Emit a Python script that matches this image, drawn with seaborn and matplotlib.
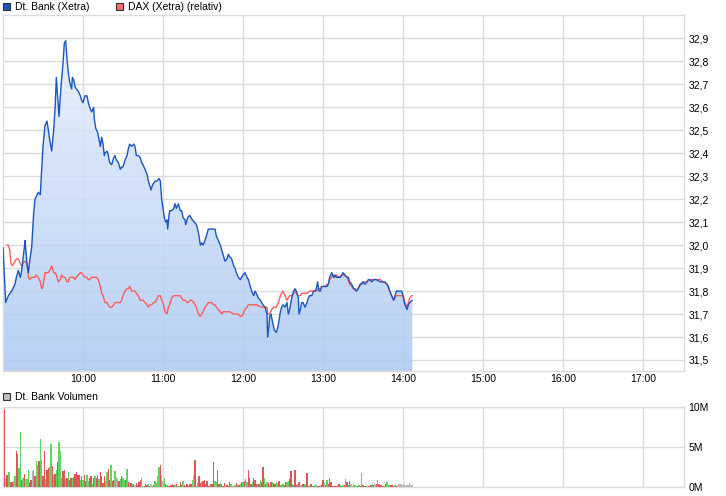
import numpy as np
import matplotlib
matplotlib.use("Agg")
import matplotlib.pyplot as plt
import seaborn as sns
from matplotlib.patches import Rectangle, Polygon
from matplotlib.colors import LinearSegmentedColormap

sns.set_theme(style="white")
plt.rcParams['font.family'] = ['Liberation Sans', 'DejaVu Sans']

# ---------------- data (minutes after 09:00) ----------------
bank_t = [0, 2, 4, 6.5, 9, 10, 11.5, 13, 14, 16, 16.5, 18, 19, 20, 21.5, 23, 24, 26.5, 28, 29,
          30, 31.5, 33, 35, 36.5, 38, 39, 40, 41.5, 42, 43.5, 45, 46, 47, 48, 49, 50, 51.5, 52, 53,
          54, 55, 56.5, 58, 59, 60, 61.5, 63, 64, 65, 66.5, 68, 68.5, 69.5, 71, 72, 73, 74, 75, 76,
          76.5, 78, 79, 80, 81.5, 83, 84, 85, 86.5, 88, 89, 90, 91.5, 93, 94, 95, 96.5, 98, 99, 100,
          101.5, 103, 104, 105, 106.5, 108, 109, 110, 111, 112, 113, 114.5, 115.5, 117, 118, 118.5,
          119, 120, 121, 122, 123, 123.5, 124.5, 125, 126.5, 128, 129, 130, 131.5, 133, 134, 135,
          136.5, 137, 138.5, 140, 141, 142, 143.5, 145, 146, 147, 148, 149, 150, 151.5, 153, 154,
          155, 156.5, 158, 159, 160, 161.5, 163, 164, 165, 166.5, 168, 169, 170, 171.5, 173, 174,
          175, 176.5, 178, 179, 180, 181.5, 183, 184, 185, 186.5, 188, 189, 190, 191.5, 193, 194,
          195, 196.5, 198, 198.5, 199.5, 200, 201, 202, 203.5, 205, 206, 207, 208, 209, 210, 211.5,
          213, 214, 215, 216.5, 218, 219, 220, 221.5, 222, 223, 224, 225, 226.5, 228, 229, 230,
          231.5, 233, 234, 235, 236, 237, 238, 239, 241.5, 243, 244, 245, 246.5, 248, 249, 250,
          253, 255, 256.5, 258, 259, 260, 261.5, 263, 264, 265, 266.5, 268, 269, 270, 271.5, 273,
          274, 275, 276.5, 278, 280, 283, 285, 286.5, 288, 289, 290, 291.5, 293, 294, 295, 299,
          300, 301, 301.5, 303, 304, 305, 307]
bank_p = [31.99, 31.75, 31.78, 31.80, 31.83, 31.86, 31.89, 31.86, 31.89, 31.99, 32.02, 31.92, 31.88,
          31.93, 31.99, 32.14, 32.20, 32.23, 32.22, 32.33, 32.43, 32.52, 32.54, 32.46, 32.41, 32.50,
          32.59, 32.73, 32.60, 32.56, 32.69, 32.79, 32.88, 32.89, 32.81, 32.75, 32.71, 32.68, 32.73,
          32.72, 32.69, 32.68, 32.67, 32.65, 32.63, 32.62, 32.65, 32.65, 32.62, 32.60, 32.58, 32.60,
          32.55, 32.51, 32.49, 32.46, 32.43, 32.47, 32.44, 32.39, 32.40, 32.41, 32.39, 32.36, 32.35,
          32.38, 32.39, 32.37, 32.36, 32.33, 32.34, 32.34, 32.37, 32.39, 32.42, 32.44, 32.43, 32.44,
          32.43, 32.39, 32.39, 32.38, 32.36, 32.35, 32.33, 32.31, 32.28, 32.26, 32.24, 32.26, 32.27,
          32.28, 32.28, 32.29, 32.28, 32.24, 32.20, 32.16, 32.12, 32.10, 32.11, 32.07, 32.13, 32.15,
          32.15, 32.16, 32.18, 32.16, 32.18, 32.15, 32.15, 32.12, 32.11, 32.09, 32.12, 32.13, 32.12,
          32.11, 32.10, 32.09, 32.07, 32.04, 32.00, 32.01, 32.00, 32.02, 32.05, 32.07, 32.07, 32.07,
          32.07, 32.07, 32.04, 32.02, 32.00, 31.98, 31.96, 31.93, 31.94, 31.96, 31.95, 31.94, 31.91,
          31.90, 31.88, 31.86, 31.85, 31.86, 31.87, 31.88, 31.86, 31.85, 31.83, 31.80, 31.78, 31.80,
          31.79, 31.77, 31.76, 31.75, 31.74, 31.73, 31.70, 31.60, 31.65, 31.69, 31.70, 31.67, 31.63,
          31.62, 31.64, 31.67, 31.71, 31.73, 31.74, 31.73, 31.75, 31.70, 31.72, 31.77, 31.80, 31.81,
          31.80, 31.77, 31.70, 31.72, 31.75, 31.75, 31.73, 31.75, 31.77, 31.78, 31.78, 31.80, 31.80,
          31.81, 31.84, 31.80, 31.80, 31.82, 31.82, 31.82, 31.83, 31.86, 31.88, 31.86, 31.87, 31.86,
          31.86, 31.88, 31.87, 31.86, 31.86, 31.84, 31.83, 31.81, 31.81, 31.80, 31.81, 31.83, 31.83,
          31.84, 31.83, 31.84, 31.85, 31.85, 31.84, 31.85, 31.85, 31.84, 31.84, 31.84, 31.83, 31.82,
          31.80, 31.78, 31.76, 31.78, 31.80, 31.80, 31.78, 31.75, 31.74, 31.72, 31.74, 31.75, 31.76]

dax_t = [3, 4, 5, 6, 7, 8, 9, 10, 11.5, 13, 14, 15, 16.5, 18, 19, 20, 21.5, 23, 24, 25, 26.5, 28,
         29, 30, 31.5, 33, 34, 35, 36.5, 38, 39, 40, 41.5, 43, 44, 45, 46.5, 48, 49, 50, 51.5, 53,
         54, 55, 56.5, 58, 59, 60, 61.5, 63, 64, 65, 66.5, 68, 69, 70, 71.5, 73, 74, 75, 76.5, 78,
         79, 80, 81.5, 83, 84, 85, 88, 89, 90, 91.5, 93, 94, 95, 96.5, 98, 99, 100, 101.5, 103,
         105, 106.5, 108, 109, 110, 111.5, 113, 114, 115, 116.5, 118, 119, 120, 121.5, 123, 124,
         125, 126.5, 128, 129, 130, 131.5, 133, 134, 135, 136.5, 138, 139, 140, 141.5, 143, 144,
         145, 146.5, 148, 149, 150, 151.5, 153, 154, 155, 156.5, 158, 159, 160, 161.5, 163, 164,
         165, 168, 170, 173, 175, 176.5, 178, 179, 180, 181.5, 183, 184, 186, 190, 194, 196.5,
         198, 198.5, 200, 201.5, 203, 205, 206.5, 208, 209, 210, 211.5, 213, 214, 215, 216.5, 218,
         219, 220, 221.5, 223, 224, 228, 230, 234, 235, 236.5, 238, 239, 241.5, 243, 244, 245,
         246.5, 248, 249, 250, 251.5, 255, 258, 260, 263, 265, 268, 270, 273, 275, 278, 280, 283,
         285, 288, 290, 293, 295, 298, 300, 301.5, 303, 304, 305, 306.5, 307]
dax_p = [32.00, 32.00, 31.98, 31.92, 31.91, 31.92, 31.93, 31.94, 31.94, 31.92, 31.91, 31.92, 31.93,
         31.92, 31.86, 31.85, 31.86, 31.86, 31.86, 31.87, 31.86, 31.84, 31.81, 31.82, 31.88, 31.88,
         31.88, 31.89, 31.91, 31.88, 31.88, 31.87, 31.84, 31.85, 31.87, 31.86, 31.86, 31.84, 31.84,
         31.86, 31.86, 31.86, 31.85, 31.86, 31.87, 31.88, 31.88, 31.87, 31.86, 31.86, 31.85, 31.85,
         31.86, 31.86, 31.86, 31.86, 31.85, 31.82, 31.79, 31.78, 31.75, 31.75, 31.74, 31.73, 31.73,
         31.74, 31.75, 31.75, 31.75, 31.76, 31.78, 31.80, 31.81, 31.81, 31.82, 31.80, 31.80, 31.80,
         31.79, 31.78, 31.76, 31.76, 31.75, 31.74, 31.73, 31.74, 31.74, 31.75, 31.75, 31.76, 31.78,
         31.78, 31.76, 31.75, 31.71, 31.70, 31.73, 31.74, 31.77, 31.78, 31.78, 31.78, 31.78, 31.78,
         31.77, 31.76, 31.76, 31.75, 31.75, 31.76, 31.76, 31.75, 31.74, 31.73, 31.70, 31.69, 31.70,
         31.71, 31.73, 31.74, 31.75, 31.75, 31.75, 31.74, 31.74, 31.73, 31.72, 31.71, 31.70, 31.71,
         31.71, 31.71, 31.70, 31.70, 31.70, 31.69, 31.69, 31.70, 31.72, 31.73, 31.74, 31.74, 31.74,
         31.73, 31.73, 31.73, 31.70, 31.70, 31.72, 31.73, 31.73, 31.75, 31.78, 31.79, 31.80, 31.78,
         31.76, 31.77, 31.78, 31.78, 31.79, 31.80, 31.79, 31.78, 31.78, 31.79, 31.79, 31.80, 31.80,
         31.80, 31.81, 31.81, 31.82, 31.82, 31.83, 31.83, 31.85, 31.86, 31.87, 31.86, 31.87, 31.86,
         31.87, 31.86, 31.83, 31.81, 31.80, 31.83, 31.84, 31.84, 31.85, 31.85, 31.85, 31.85, 31.84,
         31.83, 31.80, 31.76, 31.78, 31.78, 31.78, 31.75, 31.73, 31.75, 31.77, 31.78, 31.78]

# per-minute volume in millions and direction (r = down, g = up, n = unchanged)
vol_m = [9.75, 1.04, 1.54, 1.83, 1.92, 0.58, 0.67, 0.79, 1.42, 4.54, 4.17, 2.42, 6.92, 0.92, 1.08,
         1.67, 1.0, 1.0, 2.17, 0.58, 0.92, 1.96, 2.17, 1.33, 3.29, 2.79, 3.21, 6.04, 3.33, 1.33,
         4.46, 1.0, 2.17, 2.33, 2.5, 5.42, 2.67, 1.5, 1.58, 2.08, 3.08, 5.67, 4.46, 1.08, 1.96,
         2.17, 1.0, 1.08, 1.83, 0.92, 1.08, 1.08, 1.25, 1.63, 1.83, 1.54, 1.54, 0.92, 1.42, 0.83,
         1.54, 0.79, 1.54, 0.71, 1.13, 1.42, 0.42, 1.13, 1.33, 1.08, 1.5, 1.0, 1.92, 1.33, 0.5,
         1.33, 0.79, 1.83, 2.29, 0.92, 2.71, 0.71, 0.83, 1.96, 1.25, 1.0, 0.75, 1.0, 1.42, 1.08,
         0.92, 0.83, 2.29, 0.67, 0.58, 0.5, 0.33, 0.42, 0.25, 0.5, 0.25, 0.67, 0.83, 1.08, 0.17,
         0.17, 0.42, 0.25, 0.33, 0.17, 0.33, 0.17, 0.25, 0.75, 0.5, 1.33, 2.5, 2.75, 1.33, 0.75,
         1.08, 0.42, 0.25, 0.17, 0.17, 0.25, 0.33, 0.25, 0.25, 0.33, 0.17, 0.17, 0.67, 0.25, 0.75,
         0.25, 0.17, 0.42, 0.17, 0.42, 0.42, 0.92, 1.5, 3.42, 0.17, 0.5, 1.33, 0.5, 0.67, 0.75,
         0.92, 0.42, 0.75, 0.17, 0.17, 0.33, 0.42, 3.08, 0.75, 0.67, 2.08, 0.33, 0.5, 0.42, 0.17,
         0.5, 0.17, 0.25, 0.17, 0.67, 0.33, 0.17, 0.17, 0.25, 0.5, 0.25, 0.25, 0.33, 0.58, 0.67,
         0.75, 1.0, 0.67, 2.08, 1.08, 0.42, 0.67, 1.08, 0.92, 0.42, 0.42, 0.42, 0.92, 0.67, 2.5,
         1.17, 0.42, 0.67, 0.5, 0.25, 0.67, 0.67, 0.5, 0.42, 0.58, 0.5, 0.75, 0.25, 0.25, 0.42,
         0.25, 0.67, 0.67, 0.75, 1.0, 2.0, 0.33, 0.25, 2.17, 0.25, 0.42, 0.67, 0.25, 0.25, 0.42,
         0.33, 0.25, 1.75, 0.17, 0.17, 0.33, 0.17, 0.17, 0.25, 0.42, 0.17, 0.17, 0.25, 0.25, 0.83,
         0.5, 0.25, 0.83, 0.33, 1.08, 0.58, 0.17, 0.17, 0.17, 0.17, 0.25, 0.42, 0.25, 0.17, 0.25,
         0.25, 1.0, 0.58, 0.25, 0.75, 0.33, 0.17, 0.42, 0.25, 0.17, 0.17, 0.25, 0.17, 1.75, 0.25,
         0.17, 0.17, 0.17, 0.17, 0.17, 0.25, 0.33, 0.25, 0.33, 0.42, 0.83, 0.42, 0.25, 0.25, 0.17,
         0.17, 0.42, 0.67, 0.25, 0.25, 0.25, 0.25, 0.17, 0.25, 0.17, 0.25, 0.42, 0.33, 0.42, 0.25,
         0.42, 0.17, 0.2, 0.3, 0.5, 0.3, 0.2]
vol_dir = ("rnrggrrggrrggrgrnggrrngrggrggrrgrrggrgrgrgggrrgrgrrgrrrrrgrgrrggrrgrgrrgrrrrggrrgrrgngrg"
           "rggrgrnrgrnrrrrggrrrgrngrggggrgngrgrrrrrgrggrrgrrrrrrgnrggrrgrrrrrgrrrggrrgrrrgrrrgngg"
           "rgrgrgrggrrrgrrrgrgrrgrgrgrgrrggrgrgrrggrrgrrrgrngrgrrgrrgrgnrrnrrnrgrrrrgrrnrgrgrgrgr"
           "ngggnrgrgrgrgrgrgrnrgrrrrgrgggrrggr")

hour_ticks = [60, 120, 180, 240, 300, 360, 420, 480]
hour_labels = ["10:00", "11:00", "12:00", "13:00", "14:00", "15:00", "16:00", "17:00"]
price_ticks = [31.5, 31.6, 31.7, 31.8, 31.9, 32.0, 32.1, 32.2, 32.3, 32.4, 32.5, 32.6, 32.7, 32.8, 32.9]
vol_ticks = [0, 5, 10]
vol_tick_labels = ["0M", "5M", "10M"]

# ---------------- styling ----------------
W, H = 726, 496
XMAX = 510.75
YMIN, YMAX = 31.452, 33.002
GRID = '#dcdcdc'
BLUE = '#1a55c0'
RED = '#ff5c5c'
FS = 7.5

fig = plt.figure(figsize=(W / 100, H / 100), dpi=100)
fig.patch.set_facecolor('white')
ax = fig.add_axes([3 / W, 1 - 371 / H, 681 / W, 356 / H])
axv = fig.add_axes([3 / W, 1 - 487 / H, 681 / W, 80 / H])

for a in (ax, axv):
    a.set_facecolor('white')
    for s in a.spines.values():
        s.set_color(GRID)
        s.set_linewidth(1)
    a.set_xlim(0, XMAX)
    a.set_xticks(hour_ticks)
    a.grid(True, color=GRID, linewidth=1)
    a.set_axisbelow(True)
    a.yaxis.tick_right()
    a.tick_params(axis='both', length=0, labelsize=FS, colors='black', pad=3)

# gradient fill under Dt. Bank line
verts = [(bank_t[0], YMIN)] + list(zip(bank_t, bank_p)) + [(bank_t[-1], YMIN)]
clip = Polygon(verts, closed=True, facecolor='none', edgecolor='none', transform=ax.transData)
ax.add_patch(clip)
cmap = LinearSegmentedColormap.from_list('fill', ['#e9f1fc', '#abc8f2'])
grad = np.linspace(0, 1, 256).reshape(-1, 1)
im = ax.imshow(grad, extent=[0, XMAX, YMIN, YMAX], aspect='auto', cmap=cmap,
               origin='upper', zorder=1.5, alpha=0.85, interpolation='bilinear')
im.set_clip_path(clip)

sns.lineplot(x=dax_t, y=dax_p, ax=ax, color=RED, linewidth=1.0, estimator=None, zorder=3)
sns.lineplot(x=bank_t, y=bank_p, ax=ax, color=BLUE, linewidth=1.0, estimator=None, zorder=4)

ax.set_xlim(0, XMAX)
ax.set_ylim(YMIN, YMAX)
ax.set_yticks(price_ticks)
ax.set_yticklabels([f"{v:.1f}".replace('.', ',') for v in price_ticks])
ax.set_xticklabels(hour_labels)
ax.set_xlabel('')
ax.set_ylabel('')
ax.tick_params(axis='x', pad=2)

# volume bars
col_map = {'r': '#e05656', 'g': '#5cd65c', 'n': '#b8b8b8'}
minutes = np.arange(len(vol_m))
bar_cols = [col_map[vol_dir[i]] if i < len(vol_dir) else col_map['n'] for i in range(len(vol_m))]
axv.bar(minutes + 1, vol_m, width=0.8, color=bar_cols, linewidth=0, zorder=3, antialiased=False)
axv.set_ylim(0, 10)
axv.set_yticks(vol_ticks)
axv.set_yticklabels(vol_tick_labels)
axv.set_xticklabels([])
axv.set_xlim(0, XMAX)

# legends
def legend_box(x, y, color, text):
    fig.patches.append(Rectangle((x / W, 1 - (y + 7) / H), 7 / W, 7 / H, transform=fig.transFigure,
                                 facecolor=color, edgecolor='#333333', linewidth=0.8))
    fig.text((x + 12) / W, 1 - (y + 3.8) / H, text, fontsize=FS, va='center', ha='left', color='black')

legend_box(3, 3, BLUE, "Dt. Bank (Xetra)")
legend_box(116, 3, '#ff6a6a', "DAX (Xetra) (relativ)")
legend_box(3, 393, '#c0c0c0', "Dt. Bank Volumen")

fig.savefig("out.png", dpi=100, facecolor='white')
